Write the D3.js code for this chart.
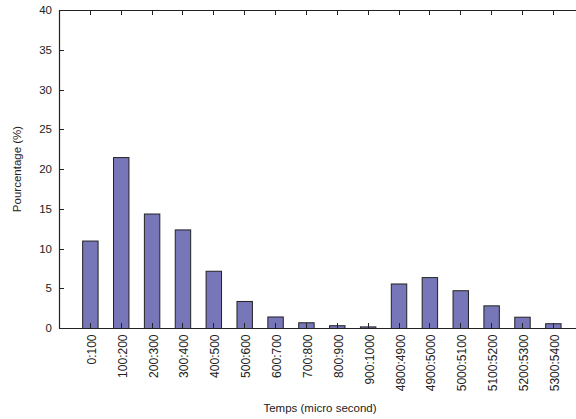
<!DOCTYPE html>
<html><head><meta charset="utf-8">
<script src="https://cdn.jsdelivr.net/npm/d3@7"></script>
<style>body{margin:0;background:#fff}svg{display:block}text{font-family:"Liberation Sans",Arial,sans-serif;fill:#222}</style>
</head><body>
<script>
const categories = ["0:100","100:200","200:300","300:400","400:500","500:600","600:700","700:800","800:900","900:1000","4800:4900","4900:5000","5000:5100","5100:5200","5200:5300","5300:5400"];
const values = [11.0,21.5,14.4,12.4,7.2,3.4,1.45,0.72,0.35,0.2,5.6,6.4,4.75,2.85,1.42,0.6];
const yTicks = [0,5,10,15,20,25,30,35,40];

const W=576,H=419;
const m={left:59,top:10,bottom:328,right:576};
const svg=d3.select("body").append("svg").attr("width",W).attr("height",H);

const x=d3.scaleLinear().domain([-1,15.75]).range([m.left,m.right]);
const y=d3.scaleLinear().domain([0,40]).range([m.bottom,m.top]);
const bw = x(0.5)-x(0);

// bars
svg.append("g").selectAll("rect").data(values).join("rect")
  .attr("x",(d,i)=>x(i)-bw/2+0.5).attr("y",d=>y(d)+0.5)
  .attr("width",bw).attr("height",d=>y(0)-y(d))
  .attr("fill","#7676b9").attr("stroke","#222").attr("stroke-width",1);

// inward ticks bottom and top
const tg=svg.append("g").attr("stroke","#222").attr("stroke-width",1);
categories.forEach((c,i)=>{
  const xx=Math.round(x(i))+0.5;
  tg.append("line").attr("x1",xx).attr("x2",xx).attr("y1",m.bottom).attr("y2",m.bottom-5);
  tg.append("line").attr("x1",xx).attr("x2",xx).attr("y1",m.top).attr("y2",m.top+5);
});
yTicks.forEach(t=>{
  const yy=Math.round(y(t))+0.5;
  tg.append("line").attr("x1",m.left).attr("x2",m.left+5).attr("y1",yy).attr("y2",yy);
});

// axes lines
const ag=svg.append("g").attr("stroke","#222").attr("stroke-width",1.2);
ag.append("line").attr("x1",m.left+0.5).attr("x2",m.left+0.5).attr("y1",m.top).attr("y2",m.bottom+0.5);
ag.append("line").attr("x1",m.left).attr("x2",m.right).attr("y1",m.bottom+0.5).attr("y2",m.bottom+0.5);
ag.append("line").attr("x1",m.left).attr("x2",m.right).attr("y1",m.top+0.5).attr("y2",m.top+0.5);

// y tick labels
svg.append("g").selectAll("text").data(yTicks).join("text")
  .attr("x",m.left-7).attr("y",d=>y(d)+4).attr("text-anchor","end")
  .attr("font-size",11.5).text(d=>d);

// x tick labels rotated
svg.append("g").selectAll("text").data(categories).join("text")
  .attr("transform",(d,i)=>`translate(${x(i)+6},${m.bottom+6.5}) rotate(-90)`)
  .attr("text-anchor","end").attr("font-size",12)
  .text(d=>d);

// axis titles
svg.append("text").attr("transform",`translate(21,${(m.top+m.bottom)/2}) rotate(-90)`)
  .attr("text-anchor","middle").attr("font-size",11.5).text("Pourcentage (%)");
svg.append("text").attr("x",320).attr("y",412).attr("text-anchor","middle")
  .attr("font-size",11.5).text("Temps (micro second)");
</script>
</body></html>
